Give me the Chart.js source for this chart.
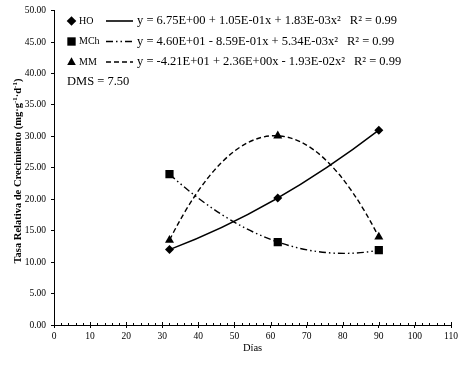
<!DOCTYPE html>
<html><head><meta charset="utf-8">
<script src="https://cdn.jsdelivr.net/npm/chart.js@4/dist/chart.umd.min.js"></script>
<style>html,body{margin:0;padding:0;background:#fff}#wrap{width:468px;height:366px;position:relative}</style>
</head><body><div id="wrap"><canvas id="c"></canvas></div>
<script>
const days = [32, 62, 90];
const seriesNames = ['HO', 'MCh', 'MM'];
const hoValues = [12.0, 20.2, 31.0];
const mchValues = [24.0, 13.2, 11.9];
const mmValues = [13.5, 30.1, 14.0];
const equations = [
  'y = 6.75E+00 + 1.05E-01x + 1.83E-03x²',
  'y = 4.60E+01 - 8.59E-01x + 5.34E-03x²',
  'y = -4.21E+01 + 2.36E+00x - 1.93E-02x²'
];
const r2Labels = ['R² = 0.99', 'R² = 0.99', 'R² = 0.99'];
const dmsLabel = 'DMS = 7.50';
const yTitleParts = [['Tasa Relativa de Crecimiento (mg·g', false], ['-1', true], ['·d', false], ['-1', true], [')', false]];
const xTitle = 'Días';
const xTickValues = [0, 10, 20, 30, 40, 50, 60, 70, 80, 90, 100, 110];
const yTickLabels = ['0.00', '5.00', '10.00', '15.00', '20.00', '25.00', '30.00', '35.00', '40.00', '45.00', '50.00'];

const FONT = "'Liberation Serif', 'Times New Roman', serif";
const styles = [
  {pointStyle: 'rectRot', radius: 4.5, dash: []},
  {pointStyle: 'rect', radius: 5.8, dash: [7, 3, 1.5, 3, 1.5, 3]},
  {pointStyle: 'triangle', radius: 5.2, dash: [5, 3]}
];
const valueSets = [hoValues, mchValues, mmValues];

const datasets = valueSets.map((vals, i) => ({
  label: seriesNames[i],
  data: days.map((d, j) => ({x: d, y: vals[j]})),
  showLine: false,
  borderColor: '#000',
  backgroundColor: '#000',
  pointStyle: styles[i].pointStyle,
  pointRadius: styles[i].radius,
  pointBackgroundColor: '#000',
  pointBorderColor: '#000',
  pointBorderWidth: 0
}));

// quadratic trendline through the three observed points, rendered as a quadratic Bezier
function trendBezier(xs, ys) {
  const [x0, x1, x2] = xs, [y0, y1, y2] = ys;
  const d01 = (y1 - y0) / (x1 - x0), d12 = (y2 - y1) / (x2 - x1);
  const c = (d12 - d01) / (x2 - x0);
  const b = d01 - c * (x0 + x1);
  const slope0 = b + 2 * c * x0;
  const cx = (x0 + x2) / 2;
  const cy = y0 + slope0 * (cx - x0);
  return {x0, y0, cx, cy, x2, y2};
}

function drawMarker(ctx, style, x, y, r) {
  ctx.beginPath();
  if (style === 'rectRot') {
    ctx.moveTo(x, y - r); ctx.lineTo(x + r, y); ctx.lineTo(x, y + r); ctx.lineTo(x - r, y);
  } else if (style === 'rect') {
    const s = r * 0.72; ctx.rect(x - s, y - s, 2 * s, 2 * s);
  } else {
    ctx.moveTo(x, y - r); ctx.lineTo(x + r * 0.9, y + r * 0.6); ctx.lineTo(x - r * 0.9, y + r * 0.6);
  }
  ctx.closePath(); ctx.fill();
}

const trend = {
  id: 'trend',
  beforeDatasetsDraw(chart) {
    const ctx = chart.ctx, xs = chart.scales.x, ys = chart.scales.y;
    ctx.save();
    ctx.strokeStyle = '#000'; ctx.lineWidth = 1.4;
    valueSets.forEach((vals, i) => {
      const q = trendBezier(days, vals);
      ctx.setLineDash(styles[i].dash);
      ctx.beginPath();
      ctx.moveTo(xs.getPixelForValue(q.x0), ys.getPixelForValue(q.y0));
      ctx.quadraticCurveTo(xs.getPixelForValue(q.cx), ys.getPixelForValue(q.cy),
                           xs.getPixelForValue(q.x2), ys.getPixelForValue(q.y2));
      ctx.stroke();
    });
    ctx.restore();
  }
};

const overlay = {
  id: 'overlay',
  afterDraw(chart) {
    const ctx = chart.ctx;
    const xs = chart.scales.x, ys = chart.scales.y;
    ctx.save();
    ctx.strokeStyle = '#000'; ctx.fillStyle = '#000'; ctx.lineWidth = 1;
    const yb = ys.getPixelForValue(0);
    for (let v = 0; v <= 110; v += 2) {
      const px = Math.round(xs.getPixelForValue(v)) + 0.5;
      ctx.beginPath(); ctx.moveTo(px, yb); ctx.lineTo(px, yb - (v % 10 === 0 ? 3 : 2)); ctx.stroke();
    }
    // legend
    const rowsY = [21, 41.5, 62];
    rowsY.forEach((ry, i) => {
      drawMarker(ctx, styles[i].pointStyle, 71.5, ry, styles[i].pointStyle === 'rect' ? 5.8 : 4.8);
      ctx.font = '10px ' + FONT; ctx.textBaseline = 'middle'; ctx.textAlign = 'left';
      ctx.fillText(seriesNames[i], 79, ry);
      ctx.setLineDash(styles[i].dash); ctx.lineWidth = 1.6;
      ctx.beginPath(); ctx.moveTo(106, ry); ctx.lineTo(133, ry); ctx.stroke();
      ctx.setLineDash([]);
      ctx.font = '12.5px ' + FONT;
      ctx.fillText(equations[i], 137, ry);
      const w = ctx.measureText(equations[i]).width;
      ctx.fillText(r2Labels[i], 137 + w + 9, ry);
    });
    ctx.font = '12.5px ' + FONT;
    ctx.fillText(dmsLabel, 67, 82);
    // y axis title with superscripts
    ctx.translate(17, 171);
    ctx.rotate(-Math.PI / 2);
    const bigF = 'bold 10.5px ' + FONT, supF = 'bold 7px ' + FONT;
    let total = 0;
    yTitleParts.forEach(([t, sup]) => { ctx.font = sup ? supF : bigF; total += ctx.measureText(t).width; });
    let cx = -total / 2;
    ctx.textBaseline = 'alphabetic';
    yTitleParts.forEach(([t, sup]) => {
      ctx.font = sup ? supF : bigF;
      ctx.fillText(t, cx, sup ? 0 : 3.5);
      cx += ctx.measureText(t).width;
    });
    ctx.restore();
  }
};

new Chart(document.getElementById('c'), {
  type: 'scatter',
  data: {datasets},
  options: {
    responsive: true, maintainAspectRatio: false, animation: false,
    layout: {padding: {top: 10, right: 17, left: 0, bottom: 0}},
    plugins: {legend: {display: false}, tooltip: {enabled: false}},
    scales: {
      x: {
        type: 'linear', min: 0, max: 110,
        afterFit(s) { s.height = 41; },
        afterBuildTicks(s) { s.ticks = xTickValues.map(v => ({value: v})); },
        ticks: {color: '#000', font: {family: FONT, size: 9.5}, padding: 3, callback: v => String(v)},
        grid: {display: true, drawOnChartArea: false, tickLength: 3, color: '#000'},
        border: {color: '#000', width: 1},
        title: {display: true, text: xTitle, color: '#000', font: {family: FONT, size: 10.5}, padding: {top: 2, bottom: 11}}
      },
      y: {
        type: 'linear', min: 0, max: 50,
        afterFit(s) { s.width = 54; },
        ticks: {stepSize: 5, color: '#000', font: {family: FONT, size: 9.5}, padding: 5,
          callback: (v) => yTickLabels[Math.round(v / 5)]},
        grid: {display: true, drawOnChartArea: false, tickLength: 3, color: '#000'},
        border: {color: '#000', width: 1},
        title: {display: false}
      }
    }
  },
  plugins: [trend, overlay]
});
</script>
</body></html>
